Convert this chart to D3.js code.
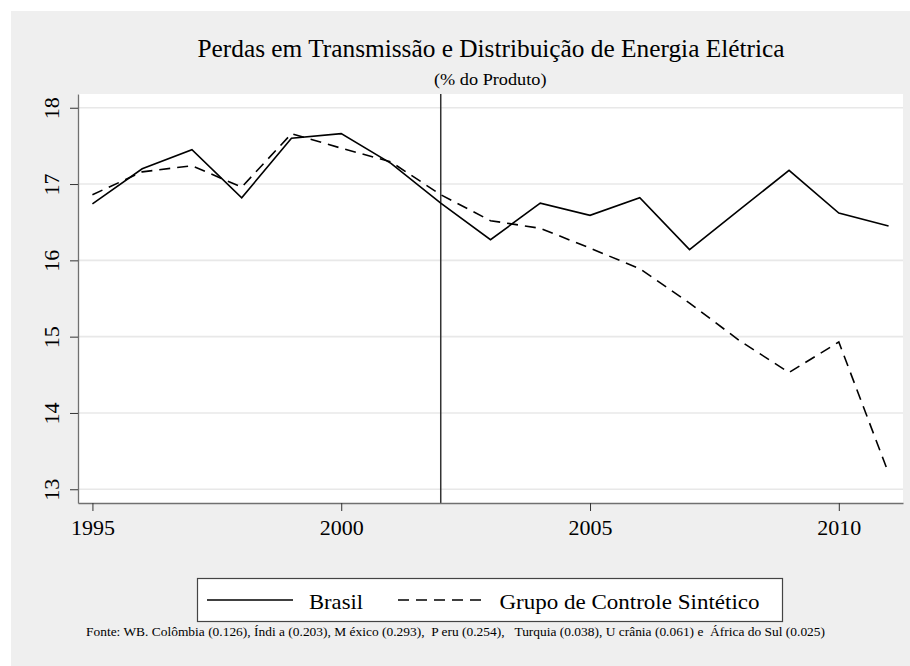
<!DOCTYPE html>
<html>
<head>
<meta charset="utf-8">
<script src="https://cdn.jsdelivr.net/npm/d3@7"></script>
</head>
<body style="margin:0">
<svg id="chart" width="910" height="666"></svg>
<script>
// ---- data ----
const years = [1995, 1996, 1997, 1998, 1999, 2000, 2001, 2002, 2003, 2004, 2005, 2006, 2007, 2008, 2009, 2010, 2011];
const brasil = [16.74, 17.20, 17.45, 16.82, 17.60, 17.66, 17.27, 16.75, 16.27, 16.75, 16.59, 16.82, 16.14, 16.66, 17.18, 16.62, 16.45];
const sintetico = [16.86, 17.16, 17.24, 16.96, 17.66, 17.47, 17.29, 16.86, 16.52, 16.42, 16.16, 15.89, 15.44, 14.95, 14.53, 14.93, 13.21];
const xTicks = [1995, 2000, 2005, 2010];
const yTicks = [13, 14, 15, 16, 17, 18];
const treatmentYear = 2002;
const seriesNames = ["Brasil", "Grupo de Controle Sintético"];
const titleText = "Perdas em Transmissão e Distribuição de Energia Elétrica";
const subtitleText = "(% do Produto)";
const noteText = "Fonte: WB. Colômbia (0.126), Índi a (0.203), M éxico (0.293),  P eru (0.254),   Turquia (0.038), U crânia (0.061) e  África do Sul (0.025)";

// ---- layout ----
const W = 910, H = 666;
const plot = { left: 78, right: 903, top: 94, bottom: 503 };
const STACK = "'Liberation Serif', Tinos, 'Times New Roman', serif";

const svg = d3.select("#chart");

function serif(sel, size) {
  sel.style("font-family", STACK).style("font-size", size + "px").attr("fill", "#000");
  return sel;
}
function fit(sel, width) {
  sel.attr("textLength", width).attr("lengthAdjust", "spacingAndGlyphs");
  return sel;
}

svg.append("rect").attr("x", 11).attr("y", 11).attr("width", W - 11).attr("height", H - 11).attr("fill", "#efefef");
svg.append("rect")
  .attr("x", plot.left).attr("y", plot.top)
  .attr("width", plot.right - plot.left).attr("height", plot.bottom - plot.top)
  .attr("fill", "#ffffff");

// titles
svg.append("text").attr("x", 197.5).attr("y", 56.5).call(serif, 25).text(titleText).call(fit, 587);
svg.append("text").attr("x", 434).attr("y", 85).call(serif, 16.5).text(subtitleText).call(fit, 112.5);

const x = d3.scaleLinear().domain([1994.71, 2011.29]).range([plot.left, plot.right]);
const y = d3.scaleLinear().domain([12.82, 18.18]).range([plot.bottom, plot.top]);

// gridlines
svg.append("g").selectAll("line").data(yTicks).join("line")
  .attr("x1", plot.left).attr("x2", plot.right)
  .attr("y1", d => y(d)).attr("y2", d => y(d))
  .attr("stroke", "#e8e8e8").attr("stroke-width", 1.6);

// treatment year line
svg.append("line")
  .attr("x1", x(treatmentYear)).attr("x2", x(treatmentYear))
  .attr("y1", plot.top).attr("y2", plot.bottom)
  .attr("stroke", "#333").attr("stroke-width", 1.5);

// series
const line = d3.line().x((d, i) => x(years[i])).y(d => y(d));
svg.append("path").datum(brasil).attr("d", line)
  .attr("fill", "none").attr("stroke", "#000").attr("stroke-width", 1.6);
svg.append("path").datum(sintetico).attr("d", line)
  .attr("fill", "none").attr("stroke", "#000").attr("stroke-width", 1.6)
  .attr("stroke-dasharray", "11,7");

// axes
const yAxis = d3.axisLeft(y).tickValues(yTicks).tickSize(8).tickSizeOuter(0).tickFormat(d3.format("d"));
const gy = svg.append("g").attr("transform", `translate(${plot.left},0)`).call(yAxis);
gy.attr("font-family", null).attr("font-size", null);
gy.select(".domain").attr("stroke", "#707070").attr("stroke-width", 1.3);
gy.selectAll(".tick line").attr("stroke", "#333").attr("stroke-width", 1);
gy.selectAll(".tick text")
  .attr("x", null).attr("dy", null)
  .attr("text-anchor", "middle")
  .attr("transform", "translate(-19,0) rotate(-90)")
  .call(serif, 22);

const xAxis = d3.axisBottom(x).tickValues(xTicks).tickSize(8).tickSizeOuter(0).tickFormat(d3.format("d"));
const gx = svg.append("g").attr("transform", `translate(0,${plot.bottom})`).call(xAxis);
gx.attr("font-family", null).attr("font-size", null);
gx.select(".domain").attr("stroke", "#707070").attr("stroke-width", 1.3);
gx.selectAll(".tick line").attr("stroke", "#333").attr("stroke-width", 1);
gx.selectAll(".tick text").attr("y", 32).attr("dy", null).call(serif, 22);

// legend
const lg = svg.append("g");
lg.append("rect").attr("x", 197.5).attr("y", 578.5).attr("width", 585).attr("height", 43)
  .attr("fill", "#fff").attr("stroke", "#444").attr("stroke-width", 1.2);
lg.append("line").attr("x1", 207).attr("x2", 293).attr("y1", 600).attr("y2", 600)
  .attr("stroke", "#000").attr("stroke-width", 1.6);
lg.append("text").attr("x", 309).attr("y", 609).call(serif, 22).text(seriesNames[0]).call(fit, 54);
lg.append("line").attr("x1", 398).attr("x2", 484).attr("y1", 600).attr("y2", 600)
  .attr("stroke", "#000").attr("stroke-width", 1.6).attr("stroke-dasharray", "11,7");
lg.append("text").attr("x", 499.5).attr("y", 609).call(serif, 22).text(seriesNames[1]).call(fit, 260);

// footnote
svg.append("text").attr("x", 86).attr("y", 636).call(serif, 12.5)
  .style("white-space", "pre")
  .text(noteText).call(fit, 739);
</script>
</body>
</html>
